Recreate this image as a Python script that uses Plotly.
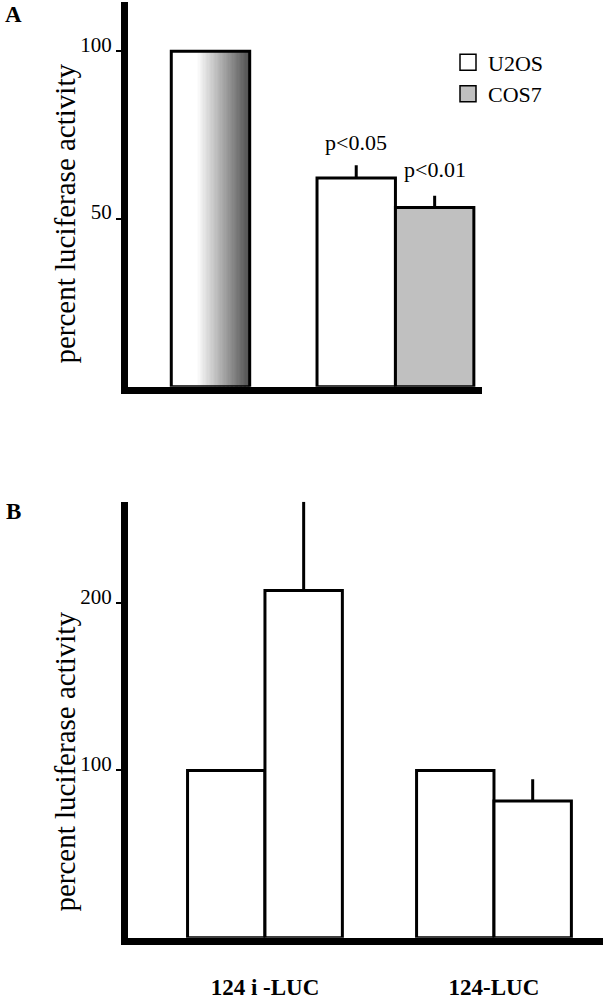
import plotly.graph_objects as go

# panel A: percent luciferase activity, control set to 100
a_groups = ["control", "treated"]
a_control = 100
a_u2os = 62.2
a_u2os_err = 3.8
a_cos7 = 53.4
a_cos7_err = 3.5
a_pvals = ["p<0.05", "p<0.01"]

# panel B: two reporter constructs, control vs treated
b_groups = ["124 i -LUC", "124-LUC"]
b_control = [100, 100]
b_treated = [207.6, 81.8]
b_treated_err = [53.0, 12.9]

W, H = 605, 1000
SERIF = "Liberation Serif, Times New Roman, serif"
AXW = 7
BARLW = 3


def px_x(p):
    return p / W


def px_y(p):
    return 1 - p / H


fig = go.Figure()

# ---- panel A ----
wa = 0.424
n = 60
offs, cols = [], []
for i in range(n):
    t = (i + 0.5) / n
    s = max(0.0, (t - 0.33) / 0.67)
    g = int(round(255 - 175 * s))
    offs.append(-wa / 2 + i * wa / n)
    cols.append(f"rgb({g},{g},{g})")

fig.add_trace(go.Bar(x=[a_groups[0]] * n, y=[a_control] * n, offset=offs,
                     width=wa / n * 1.15, marker=dict(color=cols, line=dict(width=0)),
                     xaxis="x", yaxis="y", showlegend=False, hoverinfo="skip"))
fig.add_trace(go.Bar(x=[a_groups[0]], y=[a_control], offset=-wa / 2, width=wa,
                     marker=dict(color="rgba(0,0,0,0)", line=dict(color="black", width=BARLW)),
                     xaxis="x", yaxis="y", showlegend=False))
fig.add_trace(go.Bar(x=[a_groups[1]], y=[a_u2os], offset=-wa, width=wa,
                     marker=dict(color="white", line=dict(color="black", width=BARLW)),
                     error_y=dict(type="data", symmetric=False, array=[a_u2os_err], arrayminus=[0],
                                  width=0, thickness=3, color="black"),
                     xaxis="x", yaxis="y", showlegend=False))
fig.add_trace(go.Bar(x=[a_groups[1]], y=[a_cos7], offset=0, width=wa,
                     marker=dict(color="#c0c0c0", line=dict(color="black", width=BARLW)),
                     error_y=dict(type="data", symmetric=False, array=[a_cos7_err], arrayminus=[0],
                                  width=0, thickness=3, color="black"),
                     xaxis="x", yaxis="y", showlegend=False))

# legend entries
for name, col in [("U2OS", "white"), ("COS7", "#c0c0c0")]:
    fig.add_trace(go.Scatter(x=[None], y=[None], mode="markers", name=name,
                             marker=dict(symbol="square", size=20, color=col,
                                         line=dict(color="black", width=1.5)),
                             xaxis="x", yaxis="y"))

# ---- panel B ----
wb = 0.338
fig.add_trace(go.Bar(x=b_groups, y=b_control, offset=-wb, width=wb,
                     marker=dict(color="white", line=dict(color="black", width=BARLW)),
                     xaxis="x2", yaxis="y2", showlegend=False))
fig.add_trace(go.Bar(x=b_groups, y=b_treated, offset=0, width=wb,
                     marker=dict(color="white", line=dict(color="black", width=BARLW)),
                     error_y=dict(type="data", symmetric=False, array=b_treated_err,
                                  arrayminus=[0, 0], width=0, thickness=3, color="black"),
                     xaxis="x2", yaxis="y2", showlegend=False))

yax = dict(showgrid=False, zeroline=False, showline=True, linewidth=AXW, linecolor="black",
           ticks="outside", ticklen=5, tickwidth=2, tickcolor="black",
           tickfont=dict(family=SERIF, size=21, color="black"), ticklabelshift=-7)
xax = dict(showgrid=False, zeroline=False, showline=True, linewidth=AXW, linecolor="black",
           ticks="", type="category")


def note(text, x, y, size, angle=0):
    return dict(text=text, x=px_x(x), y=px_y(y), xref="paper", yref="paper",
                xanchor="center", yanchor="middle", textangle=angle, showarrow=False,
                font=dict(family=SERIF, size=size, color="black"))


annotations = [
    note("<b>A</b>", 13, 15, 23),
    note("<b>B</b>", 13, 520, 23),
    note("percent luciferase activity", 65, 217, 29, -90),
    note("percent luciferase activity", 65, 774, 29, -90),
    dict(text=a_pvals[0], x=1 - wa / 2, y=a_u2os + a_u2os_err, xref="x", yref="y",
         xanchor="center", yanchor="bottom", yshift=8, showarrow=False,
         font=dict(family=SERIF, size=22, color="black")),
    dict(text=a_pvals[1], x=1 + wa / 2, y=a_cos7 + a_cos7_err, xref="x", yref="y",
         xanchor="center", yanchor="bottom", yshift=12, showarrow=False,
         font=dict(family=SERIF, size=22, color="black")),
]

fig.update_layout(
    width=W, height=H,
    margin=dict(l=0, r=0, t=0, b=0),
    paper_bgcolor="white", plot_bgcolor="white",
    barmode="overlay",
    xaxis=dict(xax, domain=[px_x(128), px_x(482)], range=[-0.446, 1.468],
               showticklabels=False, anchor="y"),
    yaxis=dict(yax, domain=[px_y(393), px_y(2)], range=[0, 114.7],
               tickvals=[50, 100], anchor="x"),
    xaxis2=dict(xax, domain=[px_x(128), px_x(603)], range=[-0.598, 1.476],
                tickfont=dict(family=SERIF, size=23, color="black"),
                tickvals=b_groups, ticktext=[f"<b>{g}</b>" for g in b_groups],
                ticklabelstandoff=23, anchor="y2"),
    yaxis2=dict(yax, domain=[px_y(953), px_y(510)], range=[0, 260.6],
                tickvals=[100, 200], anchor="x2"),
    legend=dict(x=px_x(448), y=px_y(42), xanchor="left", yanchor="top",
                font=dict(family=SERIF, size=22, color="black"),
                bgcolor="rgba(0,0,0,0)", tracegroupgap=0),
    annotations=annotations,
    showlegend=True,
)

fig.write_html("out.html", config={"displayModeBar": False},
               post_script="document.body.style.margin='0';document.body.style.overflow='hidden';")
